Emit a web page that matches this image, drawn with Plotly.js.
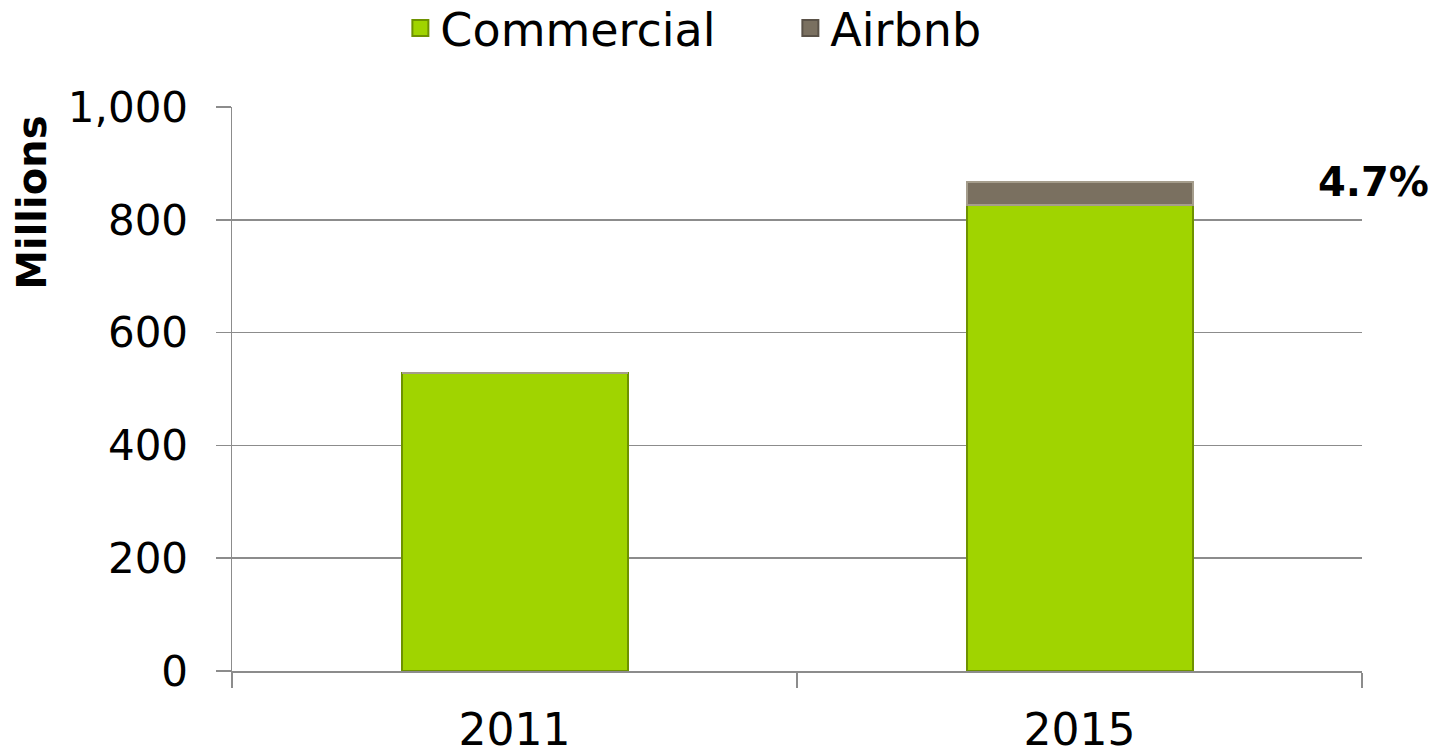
<!DOCTYPE html>
<html>
<head>
<meta charset="utf-8">
<script src="https://cdn.plot.ly/plotly-3.0.1.min.js"></script>
<style>html,body{margin:0;padding:0;background:#fff;}#chart{width:1441px;height:756px;}</style>
</head>
<body>
<div id="chart"></div>
<script>
const categories = ["2011", "2015"];
const commercial = [528, 826];
const airbnb = [0, 41];
const seriesNames = ["Commercial", "Airbnb"];
const shareLabel = "4.7%";
const yTickVals = [0, 200, 400, 600, 800, 1000];
const yTickText = ["0", "200", "400", "600", "800", "1,000"];

const fontFam = "'DejaVu Sans', sans-serif";
const green = "#a0d400", greenEdge = "#6e9200";
const taupe = "#7a7060", taupeEdge = "#a59d8c";

const traces = [
  {
    type: "bar", name: seriesNames[0], x: categories, y: commercial, showlegend: false,
    marker: {color: green, line: {color: greenEdge, width: 2}}
  },
  {
    type: "bar", name: seriesNames[1], x: categories, y: airbnb, showlegend: false,
    marker: {color: taupe, line: {color: taupeEdge, width: 2}}
  },
  // legend-only entries (larger square swatches)
  {
    type: "scatter", mode: "markers", name: seriesNames[0], x: [null], y: [null], showlegend: true,
    marker: {symbol: "square", size: 21, color: green, line: {color: greenEdge, width: 2}}
  },
  {
    type: "scatter", mode: "markers", name: seriesNames[1], x: [null], y: [null], showlegend: true,
    marker: {symbol: "square", size: 21, color: taupe, line: {color: "#5a5248", width: 2}}
  }
];

const layout = {
  width: 1441, height: 756,
  margin: {l: 232, r: 79, t: 107, b: 85, autoexpand: false},
  paper_bgcolor: "#fff", plot_bgcolor: "#fff",
  barmode: "stack", bargap: 0.6,
  font: {family: fontFam, size: 42, color: "#000"},
  showlegend: true,
  legend: {orientation: "h", x: 0.149, xanchor: "left", y: 1.14, yanchor: "middle",
           font: {size: 46, family: fontFam}, itemwidth: 30, traceorder: "normal",
           itemsizing: "trace", entrywidth: 345, entrywidthmode: "pixels"},
  xaxis: {
    type: "category", showgrid: false, showline: true, linecolor: "#8c8c8c", linewidth: 1.5,
    ticks: "outside", tickson: "boundaries", ticklen: 15, tickcolor: "#8c8c8c", tickwidth: 1.5,
    tickfont: {size: 44, family: fontFam}, zeroline: false, ticklabelstandoff: 20
  },
  yaxis: {
    range: [0, 1000], tickvals: yTickVals, ticktext: yTickText,
    showgrid: true, gridcolor: "#8c8c8c", gridwidth: 1.5,
    showline: true, linecolor: "#8c8c8c", linewidth: 1.5,
    ticks: "outside", ticklen: 15, tickcolor: "#8c8c8c", tickwidth: 1.5,
    tickfont: {size: 42, family: fontFam}, zeroline: false, ticklabelstandoff: 19
  },
  annotations: [
    {text: "<b>Millions</b>", xref: "paper", yref: "paper", x: -0.177, y: 0.83,
     textangle: -90, showarrow: false, xanchor: "center", yanchor: "middle",
     font: {size: 40, family: fontFam, color: "#000"}},
    {text: "<b>" + shareLabel + "</b>", xref: "paper", yref: "y", x: 1.0106, xanchor: "center",
     y: commercial[1] + airbnb[1], yanchor: "middle", showarrow: false,
     font: {size: 40, family: fontFam, color: "#000"}}
  ]
};

Plotly.newPlot("chart", traces, layout, {displayModeBar: false, staticPlot: true});
</script>
</body>
</html>
